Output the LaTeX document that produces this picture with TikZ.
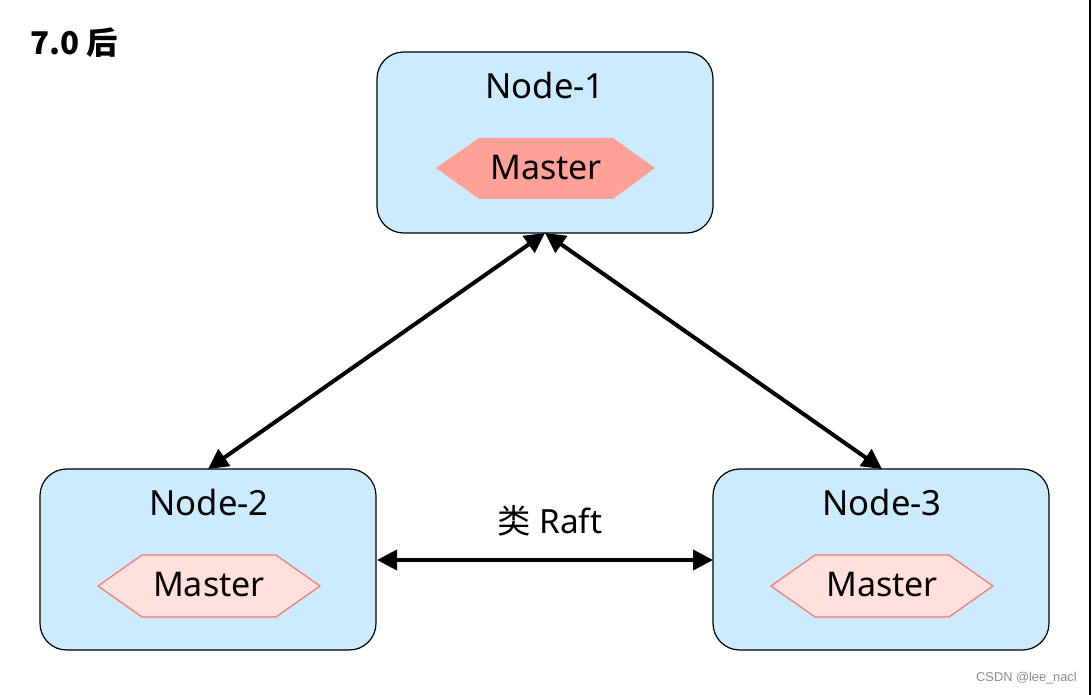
\documentclass[tikz,border=0pt]{standalone}
\usepackage{fontspec}
\setmainfont{Noto Sans}
\newfontfamily\cjkfont{Noto Sans CJK SC}
\newfontfamily\wmfont{Liberation Sans}
\usetikzlibrary{arrows.meta}
\definecolor{boxblue}{HTML}{CCEBFE}
\definecolor{masterdark}{HTML}{FFA197}
\definecolor{masterlight}{HTML}{FFE0DC}
\definecolor{masterline}{HTML}{F4786A}
\tikzset{
  nodebox/.style={draw=black, line width=0.9pt, fill=boxblue, rounded corners=20pt},
  nodetitle/.style={font=\fontsize{26}{30}\selectfont, inner sep=0pt},
  mastertext/.style={font=\fontsize{25.5}{30}\selectfont, inner sep=0pt},
  link/.style={line width=3pt, {Triangle[length=15pt,width=15pt]}-{Triangle[length=15pt,width=15pt]}, shorten <=0pt, shorten >=0pt}
}
\begin{document}
\begin{tikzpicture}[x=0.75pt,y=-0.75pt]
\useasboundingbox (0,0) rectangle (1092,695);
\fill[white] (0,0) rectangle (1092,695);
\draw[line width=1.5pt] (1090,0) -- (1090,695);

\node[anchor=west, inner sep=0pt, font=\cjkfont\bfseries\fontsize{23.5}{27}\selectfont] (title) at (30,43) {7.0 后};

% boxes
\draw[nodebox] (377,52) rectangle (713,233);
\draw[nodebox] (40,469) rectangle (376,650);
\draw[nodebox] (713,469) rectangle (1049,650);
\coordinate (n1b) at (545,233);
\coordinate (n2t) at (208,469);
\coordinate (n3t) at (882,469);
\coordinate (n2r) at (377,560);
\coordinate (n3l) at (713,560);

\node[nodetitle] (t1) at (545,86) {Node-1};
\node[nodetitle] (t2) at (209,502) {Node-2};
\node[nodetitle] (t3) at (882,502) {Node-3};

% masters
\fill[masterdark] (436,168) -- (479,138) -- (613,138) -- (655,168) -- (613,199) -- (479,199) -- cycle;
\node[mastertext] (m1) at (546,168) {Master};
\filldraw[fill=masterlight, draw=masterline, line width=0.9pt] (98,586) -- (142,555) -- (276,555) -- (320,586) -- (276,617) -- (142,617) -- cycle;
\node[mastertext] (m2) at (209,585) {Master};
\filldraw[fill=masterlight, draw=masterline, line width=0.9pt] (771,586) -- (815,555) -- (949,555) -- (993,586) -- (949,617) -- (815,617) -- cycle;
\node[mastertext] (m3) at (882,585) {Master};

% connectors
\draw[link] (n1b) -- (n2t);
\draw[link] (n1b) -- (n3t);
\draw[link] (n2r) -- (n3l);
\node[font=\fontsize{25}{29}\selectfont, inner sep=0pt] (raft) at (550,521) {{\cjkfont 类} Raft};

\node[anchor=east, inner sep=0pt, text=black!45, font=\wmfont\fontsize{9.6}{11}\selectfont] (wm) at (1077,678) {CSDN @lee\_nacl};
\end{tikzpicture}
\end{document}
